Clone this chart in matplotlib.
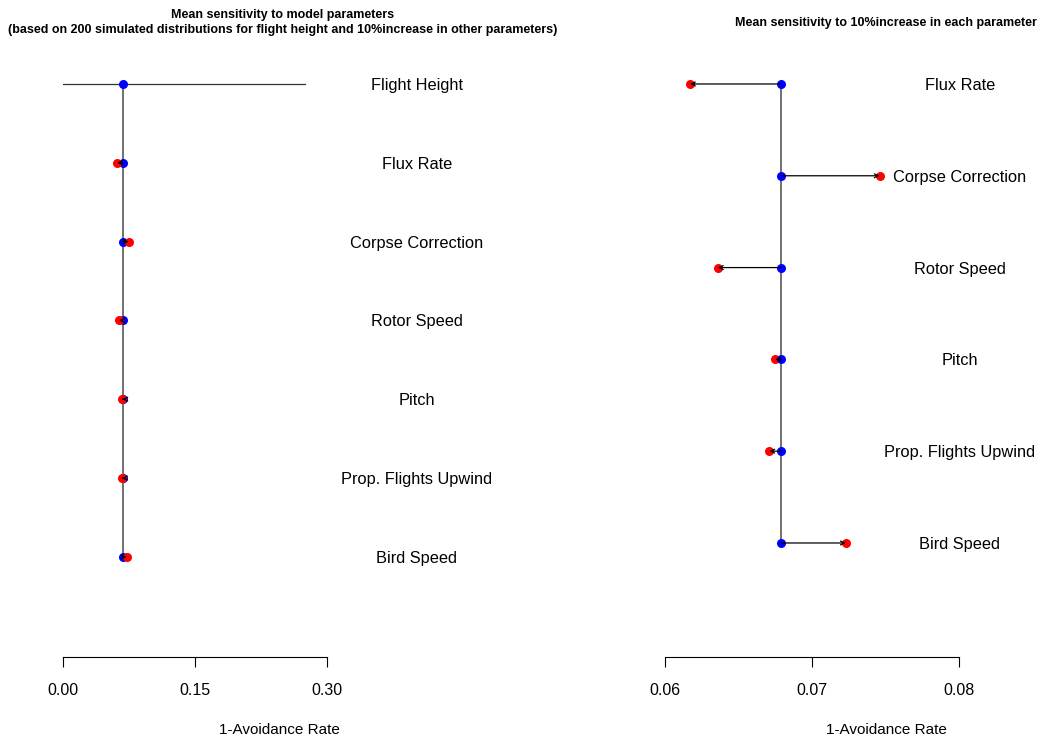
import numpy as np
import matplotlib.pyplot as plt

plt.rcParams['font.family'] = ['Liberation Sans', 'DejaVu Sans']

# data
params = ['Flux Rate', 'Corpse Correction', 'Rotor Speed', 'Pitch',
          'Prop. Flights Upwind', 'Bird Speed']
baseline = 0.0679
increased = [0.0617, 0.0746, 0.0636, 0.0675, 0.0671, 0.0723]
flight_height_range = [0.0, 0.275]

left_labels = ['Flight Height'] + params
left_ticks = [0.00, 0.15, 0.30]
right_ticks = [0.06, 0.07, 0.08]

fig = plt.figure(figsize=(10.4, 7.37), dpi=100)

W, H = 1040, 737
ax1 = fig.add_axes([63 / W, 80 / H, 264 / W, 607 / H])
ax2 = fig.add_axes([665 / W, 80 / H, 294 / W, 607 / H])


def style(ax, ticks, xlim, ylim):
    ax.set_xlim(xlim)
    ax.set_ylim(ylim)
    for s in ['left', 'top', 'right']:
        ax.spines[s].set_visible(False)
    ax.spines['bottom'].set_linewidth(0.8)
    ax.set_yticks([])
    ax.set_xticks(ticks)
    ax.set_xticklabels(['{:.2f}'.format(t) for t in ticks], fontsize=11.5)
    ax.tick_params(axis='x', length=7, width=0.8, pad=12)
    ax.patch.set_visible(False)


def arrow(ax, x0, x1, y):
    if abs(x1 - x0) < 1e-9:
        return
    ax.annotate('', xy=(x1, y), xytext=(x0, y),
                arrowprops=dict(arrowstyle='->', lw=0.9, color='black',
                                shrinkA=0, shrinkB=0, mutation_scale=7),
                zorder=5)


# left panel
n1 = len(left_labels)
rows1 = np.arange(n1, 0, -1)
style(ax1, left_ticks, (0, 0.30), (-0.27, n1 + 0.43))
ax1.plot([baseline, baseline], [rows1[-1], rows1[0]], color='#666666', lw=1.3, zorder=1)
ax1.plot(flight_height_range, [rows1[0], rows1[0]], color='#333333', lw=0.9, zorder=2)
ax1.plot(baseline, rows1[0], 'o', color='#0000ff', ms=6.5, mec='none', zorder=3)
for y, v in zip(rows1[1:], increased):
    ax1.plot(baseline, y, 'o', color='#0000ff', ms=6.5, mec='none', zorder=3)
    ax1.plot(v, y, 'o', color='#ff0000', ms=6.5, mec='none', zorder=4)
    arrow(ax1, baseline, v, y)
for y, lab in zip(rows1, left_labels):
    ax1.text(1.34, y, lab, transform=ax1.get_yaxis_transform(),
             ha='center', va='center_baseline', fontsize=11.8)
ax1.text(0.818, -0.27 - 71 / 78.8, '1-Avoidance Rate', transform=ax1.get_yaxis_transform(),
         ha='center', va='center_baseline', fontsize=11, clip_on=False)

# right panel
n2 = len(params)
rows2 = np.arange(n2, 0, -1)
style(ax2, right_ticks, (0.06, 0.08), (-0.242, n2 + 0.37))
ax2.plot([baseline, baseline], [rows2[-1], rows2[0]], color='#666666', lw=1.3, zorder=1)
for y, v in zip(rows2, increased):
    ax2.plot(v, y, 'o', color='#ff0000', ms=6.5, mec='none', zorder=3)
    ax2.plot(baseline, y, 'o', color='#0000ff', ms=6.5, mec='none', zorder=4)
    arrow(ax2, baseline, v, y)
for y, lab in zip(rows2, params):
    ax2.text(1.003, y, lab, transform=ax2.get_yaxis_transform(),
             ha='center', va='center_baseline', fontsize=11.8)
ax2.text(0.752, -0.242 - 71 / 91.8, '1-Avoidance Rate', transform=ax2.get_yaxis_transform(),
         ha='center', va='center_baseline', fontsize=11, clip_on=False)

# titles
fig.text(283 / W, 1 - 15 / H, 'Mean sensitivity to model parameters', ha='center',
         va='center', fontsize=9, fontweight='bold')
fig.text(283 / W, 1 - 30 / H,
         '(based on 200 simulated distributions for flight height and 10%increase in other parameters)',
         ha='center', va='center', fontsize=9, fontweight='bold')
fig.text(886 / W, 1 - 23 / H, 'Mean sensitivity to 10%increase in each parameter',
         ha='center', va='center', fontsize=9, fontweight='bold')

fig.savefig('out.png', dpi=100)
